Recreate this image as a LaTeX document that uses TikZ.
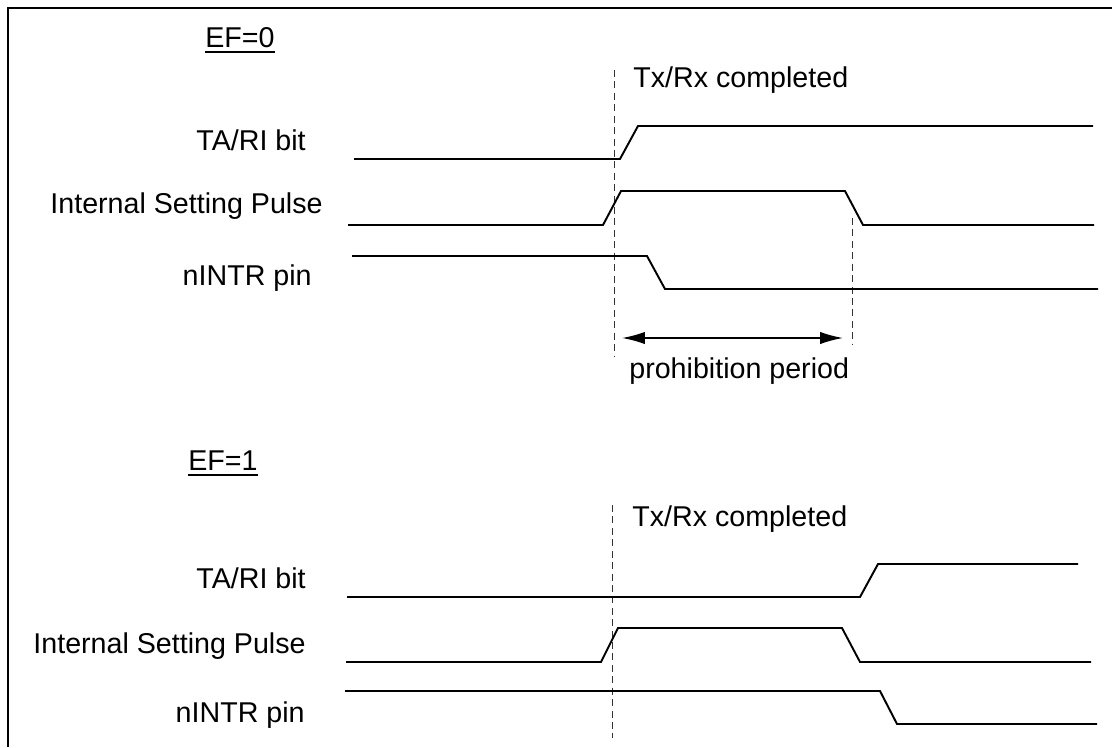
\documentclass[tikz,border=0pt]{standalone}
\usepackage{fontspec}
\setmainfont{Liberation Sans}
\usepackage{xcolor}
\usepackage{tikz}
\usetikzlibrary{arrows.meta,positioning}
\definecolor{tdInk}{HTML}{000000}
\definecolor{tdGuide}{HTML}{333333}
\tikzset{
  frame/.style={line width=1.4pt,color=tdInk},
  sig/.style={line width=1.1pt,color=tdInk,line join=miter},
  guide/.style={line width=0.5pt,color=tdGuide,dash pattern=on 4pt off 2.5pt},
  lbl/.style={inner sep=0pt,anchor=base east,font=\fontsize{16.3}{19}\selectfont,text=tdInk},
  note/.style={inner sep=0pt,anchor=base west,font=\fontsize{16.3}{19}\selectfont,text=tdInk},
  ttl/.style={inner sep=0pt,anchor=base west,font=\fontsize{16.3}{19}\selectfont,text=tdInk},
  span/.style={{Latex[length=13pt,width=7pt]}-{Latex[length=13pt,width=7pt]},line width=0.9pt,color=tdInk},
}
\begin{document}
\begin{tikzpicture}[x=0.02cm,y=-0.02cm]
  \useasboundingbox (0,0) rectangle (1112,747);
  \draw[frame] (8,747) -- (8,8) -- (1112,8);

  % EF=0
  \node[ttl] (ef0) at (205,47) {EF=0};
  \draw[line width=1pt] ([yshift=-3pt]ef0.base west) -- ([yshift=-3pt]ef0.base east);

  \coordinate (g0top) at (614,70);
  \coordinate (g0bot) at (614,357);
  \coordinate (g1top) at (852,218);
  \coordinate (g1bot) at (852,345);
  \draw[guide] (g0top) -- (g0bot);
  \draw[guide] (g1top) -- (g1bot);
  \node[note] (done0) at (633,87) {Tx/Rx completed};

  \node[lbl] (tari0) at (306,150) {TA/RI bit};
  \node[lbl] (isp0) at (323,213) {Internal Setting Pulse};
  \node[lbl] (nintr0) at (312,285) {nINTR pin};

  \draw[sig] (354,159) -- (620,159) -- (638,126) -- (1093,126);
  \draw[sig] (348,225) -- (603,225) -- (621,191) -- (845,191)
    -- (863,225) -- (1094,225);
  \draw[sig] (352,256) -- (647,256) -- (665,289) -- (1098,289);

  \coordinate (pl) at (622,338);
  \coordinate (pr) at (843,338);
  \draw[span] (pl) -- (pr);
  \node[note] (prohib) at (629,378) {prohibition period};

  % EF=1
  \node[ttl] (ef1) at (188,470) {EF=1};
  \draw[line width=1pt] ([yshift=-3pt]ef1.base west) -- ([yshift=-3pt]ef1.base east);

  \coordinate (g2top) at (612,505);
  \coordinate (g2bot) at (612,738);
  \draw[guide] (g2top) -- (g2bot);
  \node[note] (done1) at (632,526) {Tx/Rx completed};

  \node[lbl] (tari1) at (306,588) {TA/RI bit};
  \node[lbl] (isp1) at (306,653) {Internal Setting Pulse};
  \node[lbl] (nintr1) at (305,722) {nINTR pin};

  \draw[sig] (347,597) -- (860,597) -- (878,564) -- (1078,564);
  \draw[sig] (346,662) -- (601,662) -- (618,628) -- (842,628)
    -- (860,662) -- (1091,662);
  \draw[sig] (345,691) -- (880,691) -- (897,724) -- (1097,724);
\end{tikzpicture}
\end{document}
